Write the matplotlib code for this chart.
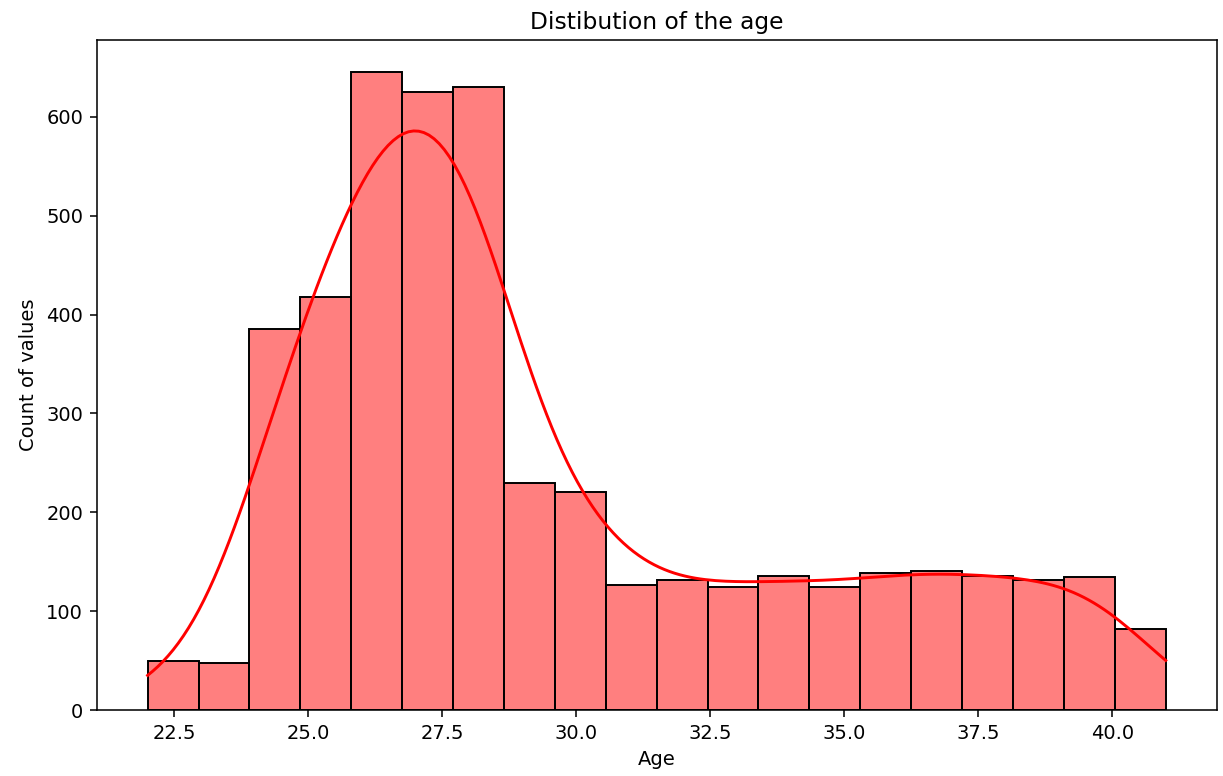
import numpy as np
import matplotlib
matplotlib.use("Agg")
from matplotlib import pyplot as plt
import seaborn as sns

# bin counts, 20 bins between 22 and 41
bin_lo = 22.0
bin_hi = 41.0
counts = [50, 48, 385, 418, 645, 625, 630, 230, 220, 126,
          132, 124, 136, 124, 139, 141, 136, 132, 135, 82]

edges = np.linspace(bin_lo, bin_hi, len(counts) + 1)
centers = (edges[:-1] + edges[1:]) / 2

fig, ax = plt.subplots(figsize=(1224 / 140, 776 / 140), dpi=140)
# weights shrink the effective sample size, so the bandwidth is scaled back down
sns.histplot(x=centers, weights=counts, bins=len(counts), binrange=(bin_lo, bin_hi),
             kde=True, color="red", ax=ax,
             kde_kws={"bw_adjust": 0.36, "cut": 3, "clip": (bin_lo, bin_hi)})
ax.set_title("Distibution of the age")
ax.set_xlabel("Age")
ax.set_ylabel("Count of values")
plt.subplots_adjust(left=0.079, right=0.994, top=0.948, bottom=0.085)
fig.savefig("out.png")
